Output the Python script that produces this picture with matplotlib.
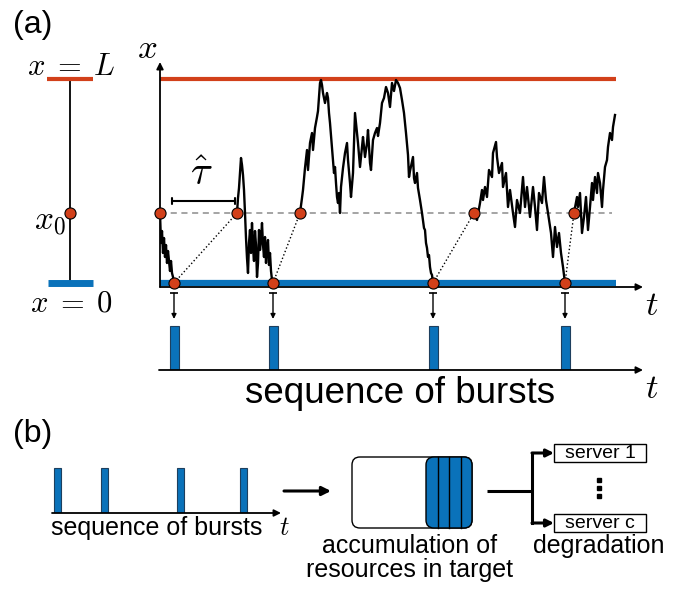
import matplotlib
matplotlib.use('Agg')
import matplotlib.pyplot as plt
from matplotlib.patches import FancyBboxPatch, Rectangle

plt.rcParams['font.family'] = ['Liberation Sans', 'DejaVu Sans']
plt.rcParams['mathtext.fontset'] = 'cm'

# ---- data (arbitrary units: t along time axis, x = position of walker) ----
L = 204          # upper boundary x = L
x0 = 70          # reset position
t_end = 456      # end of the observation window

# trajectory pieces, each one starts at x0 after a reset
seg1_t = [0, 1, 2, 3, 4, 5, 6, 7, 8, 9, 10, 11, 12, 13, 14]
seg1_x = [70, 40, 52, 30, 45, 26, 38, 20, 32, 22, 12, 22, 10, 6, 0]

seg2_t = [77, 78, 79, 80, 81, 82, 83, 84, 85, 86, 87, 88, 89, 90, 91, 92, 93, 94,
          95, 96, 97, 98, 99, 100, 101, 102, 103, 104, 105, 106, 107, 108, 109,
          110, 111, 112, 113]
seg2_x = [70, 85, 95, 110, 125, 118, 108, 93, 70, 45, 25, 10, 40, 53, 30, 60, 35,
          22, 52, 38, 6, 20, 53, 33, 43, 60, 38, 26, 46, 20, 35, 43, 18, 30, 12, 3, 0]

seg3_t = [140, 142, 143, 145, 147, 148, 150, 152, 153, 155, 157, 158, 160, 161, 162,
          163, 165, 167, 168, 169, 170, 172, 174, 175, 176, 177, 178, 179, 180, 181,
          183, 185, 187, 188, 190, 191, 193, 195, 197, 198, 200, 202, 203, 205, 207,
          208, 210, 211, 213, 215, 217, 218, 220, 222, 224, 226, 228, 230, 232, 234,
          236, 238, 240, 242, 244, 246, 248, 249, 250, 253, 254, 255, 257, 258, 260,
          262, 264, 265, 266, 267, 268, 269, 270, 271, 272, 273]
seg3_x = [70, 85, 93, 115, 133, 113, 140, 150, 133, 155, 166, 172, 200, 203, 198,
          190, 180, 190, 185, 170, 160, 135, 110, 116, 100, 86, 80, 90, 70, 96,
          115, 130, 140, 123, 100, 86, 110, 170, 150, 140, 116, 136, 146, 126, 140,
          153, 120, 113, 143, 150, 155, 147, 160, 180, 185, 196, 190, 176, 200, 192,
          203, 200, 195, 183, 170, 150, 128, 106, 112, 126, 105, 100, 110, 95, 83,
          70, 55, 53, 40, 35, 26, 28, 16, 10, 8, 0]

seg4_t = [314, 317, 320, 322, 323, 325, 327, 329, 332, 333, 336, 337, 339, 342, 343,
          346, 348, 350, 353, 355, 357, 360, 363, 365, 367, 370, 373, 375, 377, 379,
          382, 384, 386, 388, 391, 393, 395, 397, 399, 401, 403, 405]
seg4_x = [70, 63, 80, 93, 83, 96, 86, 113, 106, 130, 141, 126, 110, 120, 96,
          110, 76, 93, 70, 56, 83, 70, 106, 76, 96, 66, 96, 76, 53, 90,
          80, 106, 83, 70, 50, 26, 56, 36, 50, 30, 16, 0]

seg5_t = [414, 417, 418, 420, 422, 424, 426, 428, 430, 432, 433, 435, 437, 438, 440,
          442, 443, 445, 447, 448, 450, 452, 453, 455]
seg5_x = [70, 86, 76, 90, 50, 66, 86, 53, 76, 100, 83, 106, 90, 110, 100,
          76, 93, 116, 123, 136, 150, 143, 156, 168]

hit_t = [14, 113, 273, 405]      # first passage through x = 0 -> burst
reset_t = [77, 140, 314, 414]    # restart at x0
n_accum = 4                      # bursts piled up in the target
tau_start, tau_end = 12, 75

RED = '#d2401a'
BLUE = '#0a72ba'

W, H = 689, 589
fig = plt.figure(figsize=(W / 100, H / 100), dpi=100)


def rect(l, t, r, b):
    # pixel box -> figure fraction
    return [l / W, 1 - b / H, (r - l) / W, (b - t) / H]


arrow = dict(arrowstyle='-|>', color='k', lw=1.3, mutation_scale=10,
             shrinkA=0, shrinkB=0)

# ---------------- (a) top: trajectory ----------------
ax = fig.add_axes(rect(160, 62, 643, 287))
ax.set_xlim(0, 483)
ax.set_ylim(-4, 221)
ax.axis('off')

ax.annotate('', xy=(0, 221), xytext=(0, -4), arrowprops=arrow, annotation_clip=False)
ax.annotate('', xy=(483, -4), xytext=(0, -4), arrowprops=arrow, annotation_clip=False)

ax.plot([0, t_end], [L, L], color=RED, lw=3, solid_capstyle='butt')
ax.plot([0, t_end], [0, 0], color=BLUE, lw=4.5, solid_capstyle='butt')
ax.plot([0, 452], [x0, x0], ls=(0, (4, 3)), color='0.55', lw=1.1)

for st, sx in [(seg1_t, seg1_x), (seg2_t, seg2_x), (seg3_t, seg3_x),
               (seg4_t, seg4_x), (seg5_t, seg5_x)]:
    ax.plot(st, sx, color='k', lw=1.7, zorder=3)

for h, r in zip(hit_t, reset_t):
    ax.plot([h, r], [0, x0], ls=':', color='k', lw=1, zorder=3)

dot = dict(ls='none', marker='o', ms=8, mfc=RED, mec='k', mew=0.8, zorder=5, clip_on=False)
ax.plot([0] + reset_t, [x0] * (len(reset_t) + 1), **dot)
ax.plot(hit_t, [0] * len(hit_t), **dot)

ax.annotate('', xy=(tau_start, 82), xytext=(tau_end, 82),
            arrowprops=dict(arrowstyle='|-|, widthA=0.25, widthB=0.25', lw=1.5, color='k',
                            shrinkA=0, shrinkB=0))
ax.text((tau_start + tau_end) / 2 - 2, 90, r'$\hat{\tau}$', ha='center', va='bottom', fontsize=29)

ax.text(-13, 225, r'$x$', ha='center', va='baseline', fontsize=25)
ax.text(492, -32, r'$t$', ha='center', va='baseline', fontsize=25)

# left scale
lx = -90
ax.plot([lx, lx], [0, L], color='k', lw=1.3, clip_on=False)
ax.plot([lx - 23, lx + 23], [L, L], color=RED, lw=3, solid_capstyle='butt', clip_on=False)
ax.plot([lx - 22, lx + 23], [0, 0], color=BLUE, lw=5, solid_capstyle='butt', clip_on=False)
ax.plot([lx], [x0], **dot)
ax.text(lx + 1, 208, r'$x\;=\;L$', ha='center', va='baseline', fontsize=22)
ax.text(lx - 4, 62, r'$x_0$', ha='right', va='center', fontsize=24)
ax.text(lx + 1, -29, r'$x\;=\;0$', ha='center', va='baseline', fontsize=22)

# ---------------- (a) bottom: bursts ----------------
ax2 = fig.add_axes(rect(160, 287, 643, 370))
ax2.set_xlim(0, 483)
ax2.set_ylim(0, 83 / 44)
ax2.axis('off')
ax2.bar(hit_t, 1, width=9, color=BLUE, edgecolor='#1d3f5e', lw=0.8)
for h in hit_t:
    ax2.annotate('', xy=(h, 1.16), xytext=(h, 1.75),
                 arrowprops=dict(arrowstyle='-|>', color='k', lw=1, mutation_scale=7,
                                 shrinkA=0, shrinkB=0))
ax2.plot(hit_t, [1.75] * len(hit_t), ls='none', marker='_', ms=6, mew=1.2, color='k')
ax2.annotate('', xy=(483, 0), xytext=(-1, 0), arrowprops=arrow, annotation_clip=False)
ax2.text(492, -0.64, r'$t$', ha='center', va='baseline', fontsize=25)
ax2.text(240, -0.75, 'sequence of bursts', ha='center', va='baseline', fontsize=26.5)

# ---------------- (b) bursts ----------------
ax3 = fig.add_axes(rect(52, 460, 281, 513))
ax3.set_xlim(3.5, 482.6)
ax3.set_ylim(0, 53 / 45)
ax3.axis('off')
ax3.bar(hit_t, 1, width=14.6, color=BLUE, edgecolor='#1d3f5e', lw=0.8)
ax3.annotate('', xy=(482.6, 0), xytext=(3.5, 0), arrowprops=arrow, annotation_clip=False)
ax3.text(223, -0.49, 'sequence of bursts', ha='center', va='baseline', fontsize=18)
ax3.text(489, -0.49, r'$t$', ha='center', va='baseline', fontsize=19)

# ---------------- overlay: labels and (b) schematic ----------------
ov = fig.add_axes([0, 0, 1, 1])
ov.set_xlim(0, W)
ov.set_ylim(H, 0)
ov.axis('off')

ov.text(13, 33, '(a)', fontsize=23, va='baseline')
ov.text(13, 442, '(b)', fontsize=23, va='baseline')

ov.annotate('', xy=(331, 491), xytext=(284, 491),
            arrowprops=dict(arrowstyle='-|>', color='k', lw=2.2, mutation_scale=13,
                            shrinkA=0, shrinkB=0))

r = 8
ov.add_patch(FancyBboxPatch((352 + r, 457 + r), 120 - 2 * r, 71 - 2 * r,
                            boxstyle=f'round,pad={r}', fc='white', ec='k', lw=1))
ov.add_patch(FancyBboxPatch((426 + r, 457 + r), 46 - 2 * r, 71 - 2 * r,
                            boxstyle=f'round,pad={r}', fc=BLUE, ec='k', lw=1))
for i in range(1, n_accum):
    xi = 426 + i * 46 / n_accum
    ov.plot([xi, xi], [457, 528], color='k', lw=1)
ov.text(410, 553, 'accumulation of', ha='center', va='baseline', fontsize=18)
ov.text(410, 577, 'resources in target', ha='center', va='baseline', fontsize=18)

ov.plot([487, 532], [491, 491], color='k', lw=2.2, solid_capstyle='butt')
ov.plot([532, 532], [453, 523], color='k', lw=2.2, solid_capstyle='projecting')
for yy, lab in [(453, 'server 1'), (523, 'server c')]:
    ov.annotate('', xy=(554, yy), xytext=(532, yy),
                arrowprops=dict(arrowstyle='-|>', color='k', lw=2.2, mutation_scale=11,
                                shrinkA=0, shrinkB=0))
    ov.add_patch(Rectangle((554, yy - 9), 92, 18, fc='white', ec='k', lw=1))
    ov.text(600, yy + 1, lab, ha='center', va='center', fontsize=14)
ov.plot([599, 599, 599], [480, 488, 496], ls='none', marker='s', ms=2.2, color='k')
ov.text(599, 553, 'degradation', ha='center', va='baseline', fontsize=18)

fig.savefig('out.png', dpi=100)
